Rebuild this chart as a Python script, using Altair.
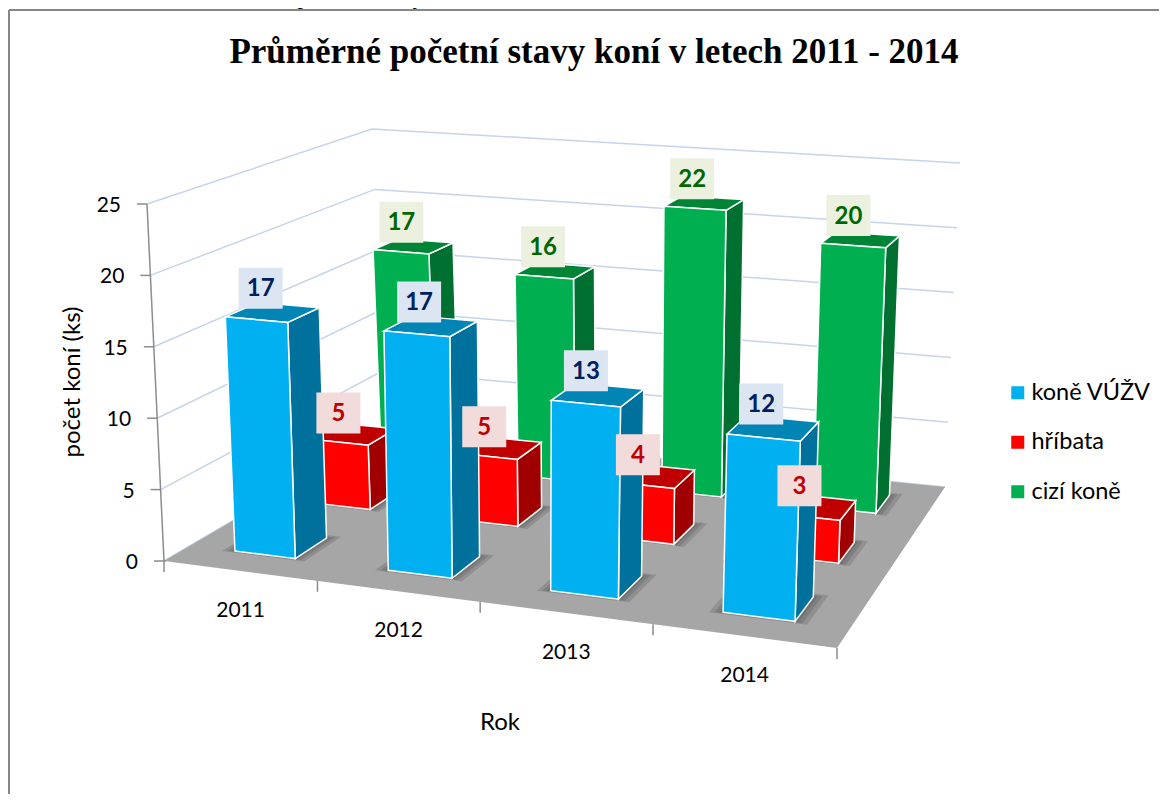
import altair as alt
import numpy as np
import pandas as pd

years = ["2011", "2012", "2013", "2014"]
series = ["koně VÚŽV", "hříbata", "cizí koně"]
kone_vuzv = [16.6, 16.6, 12.9, 11.8]
hribata = [4.8, 4.9, 4.0, 3.0]
cizi_kone = [16.8, 15.7, 21.8, 19.8]
label_values = [[17, 17, 13, 12], [5, 5, 4, 3], [17, 16, 22, 20]]
y_ticks = [0, 5, 10, 15, 20, 25]
y_max = 25

front_colors = ["#00B0F0", "#FF0000", "#00B050"]
side_colors = ["#00709C", "#A00000", "#007030"]
top_colors = ["#0085B5", "#C00000", "#008537"]
box_colors = ["#DCE6F2", "#F2DCDB", "#EBF1DE"]
text_colors = ["#002060", "#C00000", "#006600"]
FLOOR = "#A6A6A6"
GRID = "#C6D4E9"
AXIS = "#8C8C8C"
SANS = "Lato"

# view of the chart's box: floor and ceiling corners (u along years, v in depth) on the page
_square = [(0, 0), (1, 0), (1, 1), (0, 1)]
_floor = [(164, 561), (837, 648), (945, 487), (386, 431)]
_ceil = [(147, 204), (850, 255), (960, 163), (372, 129)]


def homography(dst):
    A, b = [], []
    for (u, v), (x, y) in zip(_square, dst):
        A.append([u, v, 1, 0, 0, 0, -x * u, -x * v])
        b.append(x)
        A.append([0, 0, 0, u, v, 1, -y * u, -y * v])
        b.append(y)
    return np.append(np.linalg.solve(np.array(A, float), np.array(b, float)), 1.0).reshape(3, 3)


_Hf, _Hc = homography(_floor), homography(_ceil)


def project(u, v, value=0.0):
    f = _Hf @ np.array([u, v, 1.0])
    c = _Hc @ np.array([u, v, 1.0])
    t = value / y_max
    f, c = f[:2] / f[2], c[:2] / c[2]
    return float(f[0] * (1 - t) + c[0] * t), float(f[1] * (1 - t) + c[1] * t)


def band(poly):
    rows = []
    n = len(poly)
    for x in sorted({p[0] for p in poly}):
        ys = []
        for i in range(n):
            a, b = poly[i], poly[(i + 1) % n]
            lo, hi = min(a[0], b[0]), max(a[0], b[0])
            if lo <= x <= hi:
                if a[0] == b[0]:
                    ys += [a[1], b[1]]
                else:
                    ys.append(a[1] + (b[1] - a[1]) * (x - a[0]) / (b[0] - a[0]))
        rows.append((x, min(ys), max(ys)))
    return rows


faces, plain, seq = [], [], 0


def add(target, poly, fill):
    global seq
    seq += 1
    for x, y, y2 in band(poly):
        target.append(dict(face=seq, x=x, y=y, y2=y2, fill=fill))


BAR_U = (0.30, 0.70)
BAR_V = (0.30, 0.70)
LABEL_SHIFT = [(-12, -24), (-15, -21), (-12, -24)]
data_series = [kone_vuzv, hribata, cizi_kone]

add(plain, [project(0, 0), project(1, 0), project(1, 1), project(0, 1)], FLOOR)


def box(j, i):
    u0, u1 = [(i + f) / 4 for f in BAR_U]
    v0, v1 = [(j + f) / 3 for f in BAR_V]
    return u0, u1, v0, v1


shadow = []
for j in [2, 1, 0]:
    for i in range(4):
        u0, u1, v0, v1 = box(j, i)
        for e in (0.005, 0.011, 0.018):
            add(shadow, [project(u0 - e, v0 - e * 0.5), project(u1 + e, v0 - e * 0.5), project(u1 + e, v1 + e), project(u0 - e, v1 + e)], "#3A3A3A")

labels = []
for j in [2, 1, 0]:
    for i in range(4):
        u0, u1, v0, v1 = box(j, i)
        val = data_series[j][i]
        add(faces, [project(u1, v0), project(u1, v1), project(u1, v1, val), project(u1, v0, val)], side_colors[j])
        add(faces, [project(u0, v0, val), project(u1, v0, val), project(u1, v1, val), project(u0, v1, val)], top_colors[j])
        add(faces, [project(u0, v0), project(u1, v0), project(u1, v0, val), project(u0, v0, val)], front_colors[j])
        cx, cy = project((u0 + u1) / 2, (v0 + v1) / 2, val)
        lx, ly = cx + LABEL_SHIFT[j][0], cy + LABEL_SHIFT[j][1]
        labels.append(dict(x=lx - 22, x2=lx + 22, y=ly - 20.5, y2=ly + 20.5, cx=lx, cy=ly + 1,
                           text=str(label_values[j][i]), box=box_colors[j], color=text_colors[j]))

lines = []
lid = 0


def seg(pts):
    global lid
    lid += 1
    for k, (x, y) in enumerate(pts):
        lines.append(dict(id=lid, k=k, x=x, y=y))


for t in y_ticks:
    seg([project(0, 0, t), project(0, 1, t), project(1, 1, t)])
grid_lines = lines
lines = []
seg([project(0, 0, 0), project(0, 0, y_max)])
axis_labels = []
for t in y_ticks:
    x, y = project(0, 0, t)
    seg([(x - 10, y), (x + (2 if t == 0 else 0), y)])
    axis_labels.append(dict(x=x - 26, y=y + 2, text=str(t)))
for i in range(5):
    x, y = project(i / 4, 0)
    seg([(x, y), (x, y + 11)])
year_labels = []
for i, yr in enumerate(years):
    x, y = project((i + 0.5) / 4, 0)
    year_labels.append(dict(x=x + 1, y=y + 40, text=yr))

X = dict(scale=alt.Scale(domain=[8, 1159], nice=False, zero=False), axis=None)
Y = dict(scale=alt.Scale(domain=[794, 8], nice=False, zero=False), axis=None)
px = lambda f="x": alt.X(f"{f}:Q", **X)
py = lambda f="y": alt.Y(f"{f}:Q", **Y)


def areas(rows, **kw):
    return alt.Chart(pd.DataFrame(rows)).mark_area(orient="vertical", **kw).encode(
        x=px(), y=py(), y2=alt.Y2("y2"), detail="face:N",
        fill=alt.Fill("fill:N", scale=None))


def polylines(rows, color, width):
    return alt.Chart(pd.DataFrame(rows)).mark_line(color=color, strokeWidth=width).encode(
        x=px(), y=py(), detail="id:N", order="k:Q")


def texts(rows, **kw):
    return alt.Chart(pd.DataFrame(rows)).mark_text(**kw).encode(x=px(), y=py(), text="text:N")


border = alt.Chart(pd.DataFrame([dict(x=9, y=794, x2=9, y2=10), dict(x=9, y=10, x2=1159, y2=10)])).mark_rule(
    color="#868686", strokeWidth=2).encode(x=px(), y=py(), x2="x2:Q", y2="y2:Q")

caption = texts([dict(x=11, y=4, text="Graf 2"), dict(x=198, y=4, text="Průměrné početní stavy koní v letech 2011 – 2014")],
                font="Liberation Serif", fontSize=24, align="left", baseline="alphabetic", color="black")
title = texts([dict(x=594, y=52, text="Průměrné početní stavy koní v letech 2011 - 2014")],
              font="Liberation Serif", fontSize=35, fontWeight="bold", color="black", baseline="middle")
ytitle = texts([dict(x=73, y=382, text="počet koní (ks)")], font=SANS, fontSize=24, angle=270, baseline="middle", color="black")
xtitle = texts([dict(x=500, y=723, text="Rok")], font=SANS, fontSize=24, baseline="middle", color="black")
ylabels = texts(axis_labels, font=SANS, fontSize=21, align="right", baseline="middle", color="black")
xlabels = texts(year_labels, font=SANS, fontSize=21, baseline="middle", color="black")

ld = pd.DataFrame(labels)
label_boxes = alt.Chart(ld).mark_rect().encode(x=px(), x2="x2:Q", y=py(), y2="y2:Q", fill=alt.Fill("box:N", scale=None))
label_text = alt.Chart(ld).mark_text(font=SANS, fontSize=24, fontWeight="bold", baseline="middle").encode(
    x=px("cx"), y=py("cy"), text="text:N", color=alt.Color("color:N", scale=None))

legend_layer = alt.Chart(pd.DataFrame({"series": series})).mark_square(size=0, opacity=1).encode(
    x=alt.value(0), y=alt.value(0),
    color=alt.Color("series:N", scale=alt.Scale(domain=series, range=front_colors),
                    legend=alt.Legend(title=None, orient="none", legendX=998, legendY=373, symbolType="square",
                                      symbolSize=169, symbolStrokeWidth=0, symbolOpacity=1, labelFont=SANS, labelFontSize=23.5,
                                      labelColor="black", rowPadding=24.5, labelOffset=2)))

chart = alt.layer(
    border, caption, title, polylines(grid_lines, GRID, 1.5),
    areas(plain), areas(shadow, opacity=0.2),
    areas(faces, stroke="white", strokeWidth=1.5),
    polylines(lines, AXIS, 1.5), ylabels, xlabels, ytitle, xtitle, label_boxes, label_text, legend_layer,
).properties(width=1151, height=786, padding=0, autosize=alt.AutoSizeParams(type="none"),
             background="white").configure_view(stroke=None)

chart.save("out.html", embed_options={"renderer": "svg", "actions": False})
